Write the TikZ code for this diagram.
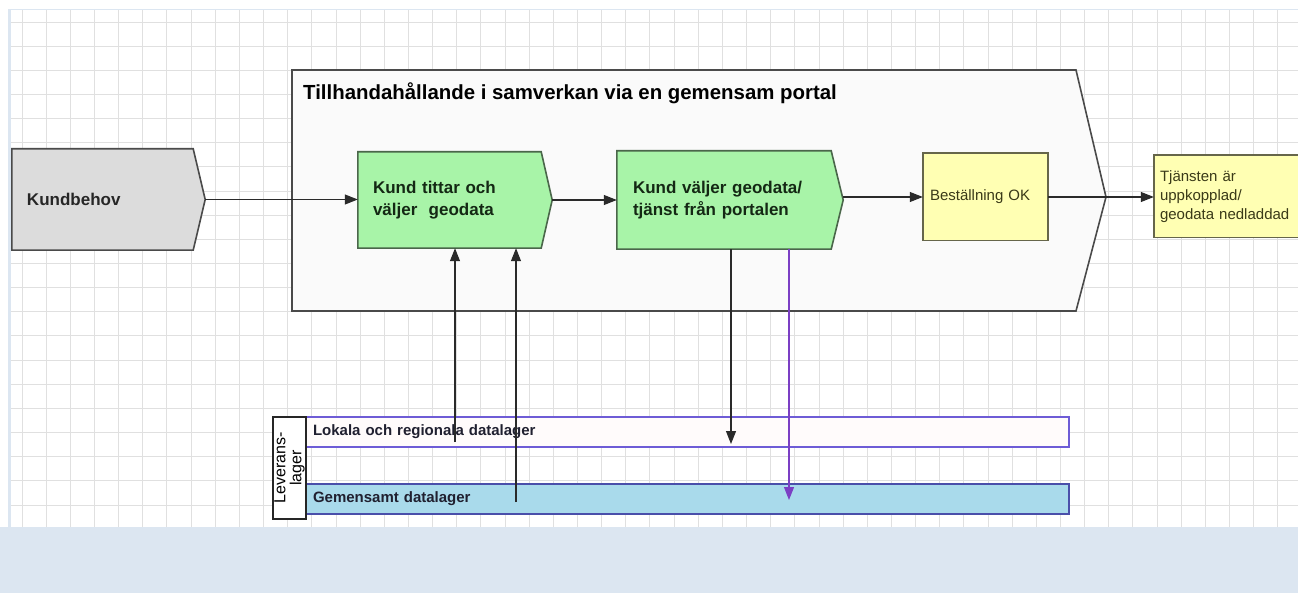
\documentclass[tikz,border=0pt]{standalone}
\usepackage{fontspec}
\setmainfont{Liberation Sans}
\usetikzlibrary{arrows.meta,calc}
\pgfdeclarelayer{gridlayer}
\pgfdeclarelayer{shapelayer}
\pgfsetlayers{gridlayer,shapelayer,main}

\definecolor{gridc}{HTML}{E0E0E0}
\definecolor{bandc}{HTML}{DCE6F1}
\definecolor{kundfill}{HTML}{DCDCDC}
\definecolor{shapeline}{HTML}{4A4A4A}
\definecolor{portalfill}{HTML}{FAFAFA}
\definecolor{greenfill}{HTML}{A8F4A8}
\definecolor{greenline}{HTML}{4A664A}
\definecolor{greentext}{HTML}{142814}
\definecolor{yellowfill}{HTML}{FFFFB3}
\definecolor{yellowline}{HTML}{66664A}
\definecolor{yellowtext}{HTML}{3A3A18}
\definecolor{lokline}{HTML}{6E5CD6}
\definecolor{lokfill}{HTML}{FFFBFB}
\definecolor{gemfill}{HTML}{A9DAEB}
\definecolor{gemline}{HTML}{4A4FAA}
\definecolor{lanetext}{HTML}{202030}
\definecolor{purplec}{HTML}{7B3FC4}
\definecolor{conn}{HTML}{2A2A2A}

\tikzset{
  box/.style={draw=none, inner sep=0pt, align=left},
  shapeedge/.style={line width=1.6pt, line join=miter},
  laneedge/.style={line width=1.8pt},
  conarrow/.style={draw=conn, line width=1.1pt, -{Triangle[length=13pt,width=10pt]}},
  purplearrow/.style={draw=purplec, line width=1.1pt, -{Triangle[length=13pt,width=10pt]}},
  greenfont/.style={font=\fontsize{17}{22}\selectfont\bfseries, text=greentext},
  yellowfont/.style={font=\fontsize{15}{19}\selectfont, text=yellowtext},
  lanefont/.style={font=\fontsize{15}{18}\selectfont\bfseries, text=lanetext}
}

\begin{document}
\begin{tikzpicture}[x=1pt,y=-1pt]
\useasboundingbox (0,0) rectangle (1298,593);

% ---------- nodes ----------
\node[box, minimum width=193, minimum height=101, text width=163,
      font=\fontsize{17}{22}\selectfont\bfseries, text=black!85] (kund) at (108.5,199.5) {Kundbehov};

\node[box, anchor=west, font=\fontsize{20.4}{24}\selectfont\bfseries] (title) at (303,93)
  {Tillhandahållande i samverkan via en gemensam portal};

\node[box, greenfont, minimum width=194, minimum height=96, text width=164] (g1) at (455,200)
  {Kund tittar och\\väljer\ \ geodata};
\node[box, greenfont, minimum width=226, minimum height=98, text width=194] (g2) at (730,200)
  {Kund väljer geodata/\\tjänst från portalen};
\node[box, yellowfont, minimum width=125, minimum height=87, text width=111] (best) at (985.5,197)
  {Beställning OK};
\node[box, yellowfont, minimum width=146, minimum height=82, text width=134] (tj) at (1227,196.5)
  {Tjänsten är\\uppkopplad/\\geodata nedladdad};

\node[box, lanefont, minimum width=763, minimum height=30, text width=749] (lok) at (687.5,432)
  {Lokala och regionala datalager};
\node[box, lanefont, minimum width=763, minimum height=30, text width=749] (gem) at (687.5,499)
  {Gemensamt datalager};
\node[draw=black!85, line width=1.4pt, fill=white, inner sep=0pt, rotate=90, align=center,
      minimum width=102, minimum height=33,
      font=\fontsize{16}{16}\selectfont] (lev) at (289.5,468)
  {Leverans-\\lager};

% ---------- shapes (behind text) ----------
\begin{pgfonlayer}{shapelayer}
  % big process chevron
  \path[shapeedge, draw=shapeline, fill=portalfill]
    (292,70) -- (1076,70) -- (1106,197) -- (1076,311) -- (292,311) -- cycle;
  % Kundbehov
  \path[shapeedge, draw=shapeline, fill=kundfill]
    (kund.north west) -- ($(kund.north east)+(-12,0)$) -- (kund.east)
    -- ($(kund.south east)+(-12,0)$) -- (kund.south west) -- cycle;
  % green chevrons
  \path[shapeedge, draw=greenline, fill=greenfill]
    (g1.north west) -- ($(g1.north east)+(-11,0)$) -- (g1.east)
    -- ($(g1.south east)+(-11,0)$) -- (g1.south west) -- cycle;
  \path[shapeedge, draw=greenline, fill=greenfill]
    (g2.north west) -- ($(g2.north east)+(-12,0)$) -- (g2.east)
    -- ($(g2.south east)+(-12,0)$) -- (g2.south west) -- cycle;
  % yellow boxes
  \path[shapeedge, draw=yellowline, fill=yellowfill] (best.north west) rectangle (best.south east);
  \path[fill=yellowfill] (tj.north west) rectangle (tj.south east);
  \path[shapeedge, draw=yellowline] (tj.north east) -- (tj.north west) -- (tj.south west) -- (tj.south east);
  % lanes
  \path[laneedge, draw=lokline, fill=lokfill] (lok.north west) rectangle (lok.south east);
  \path[laneedge, draw=gemline, fill=gemfill] (gem.north west) rectangle (gem.south east);
\end{pgfonlayer}

% ---------- background grid ----------
\begin{pgfonlayer}{gridlayer}
  \fill[white] (0,0) rectangle (1298,593);
  \foreach \i in {0,...,52} {
    \draw[gridc, line width=0.9pt] (22+24.15*\i,10) -- (22+24.15*\i,527);
  }
  \foreach \j in {0,...,20} {
    \draw[gridc, line width=0.9pt] (10,22+24.15*\j) -- (1298,22+24.15*\j);
  }
  \fill[bandc] (0,527) rectangle (1298,593);
  \fill[bandc] (8,10) rectangle (11,527);
  \draw[bandc, line width=1pt] (8,10) -- (1298,10);
\end{pgfonlayer}

% ---------- connectors ----------
\coordinate (up1) at (455,442);
\coordinate (up2) at (516,502);
\coordinate (dn1) at (731,444);
\coordinate (dn2) at (789,500);

\draw[conarrow] (kund.east) -- (kund.east -| g1.west);
\draw[conarrow] (g1.east) -- (g1.east -| g2.west);
\draw[conarrow] (best.west -| g2.east) -- (best.west);
\draw[conarrow] (best.east) -- (best.east -| tj.west);
\draw[conarrow] (up1) -- (up1 |- g1.south);
\draw[conarrow] (up2) -- (up2 |- g1.south);
\draw[conarrow] (dn1 |- g2.south) -- (dn1);
\draw[purplearrow] (dn2 |- g2.south) -- (dn2);
\end{tikzpicture}
\end{document}
